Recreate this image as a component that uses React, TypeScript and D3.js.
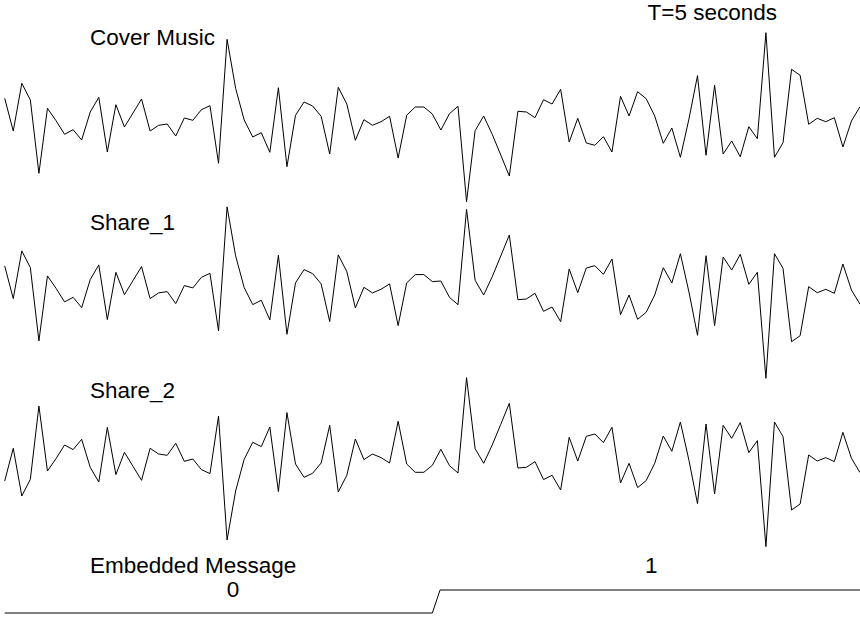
import React from "react";
import * as d3 from "d3";

const W = 860;
const H = 617;

// Cover music samples (amplitude, up = positive)
const cover = [
  23.4, -9.3, 38.4, 21.7, -51.6, 13.4, 1, -12.6, -8, -18.3,
  9.7, 24.4, -30.3, 17, -5.3, 8.7, 22.7, -9.3, -3.6, -2.3,
  -14.3, 3.7, 1.4, 12, 16, -41.6, 82.4, 33.4, 1.7, -15.3,
  -11, -30.6, 34, -45, 6.4, 19.7, 15.7, 5.4, -32.3, 34.4,
  17.7, -18.6, 2, -3.6, 0, 5.4, -36.3, 6.4, 14.7, 14.7,
  7.7, -8.3, 8, 15.4, -80, -9, 5.7, -12.6, -33.3, -54.3,
  10.4, 9.7, 4, 22, 17.7, 32.4, -20.3, 3.4, -21.3, -23.6,
  -15, -30.3, 25.4, 5.7, 30, 23, 5.7, -21.6, -6.3, -35.6,
  2.7, 46, -33.6, 36.4, -32.3, -19.3, -35, -5, -17, 89,
  -35.6, -21, 52.4, 46.4, -2.6, 3.4, 0, 4, -25.3, 0.7,
  15,
];

const share1 = [
  23.4, -9.3, 38.4, 21.7, -51.6, 13.4, 1, -12.6, -8, -18.3,
  9.7, 24.4, -30.3, 17, -5.3, 8.7, 22.7, -9.3, -3.6, -2.3,
  -14.3, 3.7, 1.4, 12, 16, -41.6, 82.4, 33.4, 1.7, -15.3,
  -11, -30.6, 34, -45, 6.4, 19.7, 15.7, 5.4, -32.3, 34.4,
  17.7, -18.6, 2, -3.6, 0, 5.4, -36.3, 6.4, 14.7, 14.7,
  7.7, 8.3, -8, -15.4, 80, 9, -5.7, 12.6, 33.3, 54.3,
  -10.4, -9.7, -4, -22, -17.7, -32.4, 20.3, -3.4, 21.3, 23.6,
  15, 30.3, -25.4, -5.7, -30, -23, -5.7, 21.6, 6.3, 35.6,
  -2.7, -46, 33.6, -36.4, 32.3, 19.3, 35, 5, 17, -89,
  35.6, 21, -52.4, -46.4, 2.6, -3.4, 0, -4, 25.3, -0.7,
  -15,
];

const share2 = [
  -23.4, 9.3, -38.4, -21.7, 51.6, -13.4, -1, 12.6, 8, 18.3,
  -9.7, -24.4, 30.3, -17, 5.3, -8.7, -22.7, 9.3, 3.6, 2.3,
  14.3, -3.7, -1.4, -12, -16, 41.6, -82.4, -33.4, -1.7, 15.3,
  11, 30.6, -34, 45, -6.4, -19.7, -15.7, -5.4, 32.3, -34.4,
  -17.7, 18.6, -2, 3.6, 0, -5.4, 36.3, -6.4, -14.7, -14.7,
  -7.7, 8.3, -8, -15.4, 80, 9, -5.7, 12.6, 33.3, 54.3,
  -10.4, -9.7, -4, -22, -17.7, -32.4, 20.3, -3.4, 21.3, 23.6,
  15, 30.3, -25.4, -5.7, -30, -23, -5.7, 21.6, 6.3, 35.6,
  -2.7, -46, 33.6, -36.4, 32.3, 19.3, 35, 5, 17, -89,
  35.6, 21, -52.4, -46.4, 2.6, -3.4, 0, -4, 25.3, -0.7,
  -15,
];

// Embedded message (step signal)
const messageTimes = [0, 50, 50.9, 100];
const messageLevels = [0, 0, 1, 1];
const messageBits = ["0", "1"];
const messageBitPos = [26.7, 75.6];

const seriesNames = ["Cover Music", "Share_1", "Share_2"];
const timeLabel = "T=5 seconds";
const messageTitle = "Embedded Message";

const FONT = "'Liberation Sans', Arial, Helvetica, sans-serif";

export default function App() {
  const x = d3.scaleLinear().domain([0, 100]).range([4.7, 860]);
  const centers = [121.7, 289.3, 457.6];
  const series = [cover, share1, share2];

  const paths = series.map((s, k) => {
    const y = d3
      .scaleLinear()
      .domain([-100, 100])
      .range([centers[k] + 100, centers[k] - 100]);
    const line = d3
      .line<number>()
      .x((_, i) => x(i))
      .y((d) => y(d));
    return line(s) || "";
  });

  const yMsg = d3.scaleLinear().domain([0, 1]).range([613, 590]);
  const msgLine = d3
    .line<number>()
    .x((d) => x(d))
    .y((_, i) => yMsg(messageLevels[i]));
  const msgPath = msgLine(messageTimes) || "";

  const labelY = [45, 230, 398];
  const fs = 22.5;

  return (
    <svg
      width={W}
      height={H}
      style={{ position: "absolute", left: 0, top: 0, background: "#fff" }}
      fontFamily={FONT}
    >
      <rect x={0} y={0} width={W} height={H} fill="#fff" />
      {paths.map((p, k) => (
        <path key={k} d={p} fill="none" stroke="#000" strokeWidth={1} />
      ))}
      {seriesNames.map((n, k) => (
        <text key={n} x={90} y={labelY[k]} fontSize={fs} fill="#000">
          {n}
        </text>
      ))}
      <text x={777} y={20} fontSize={fs} textAnchor="end" fill="#000">
        {timeLabel}
      </text>
      <text x={90} y={573} fontSize={fs} fill="#000">
        {messageTitle}
      </text>
      <text x={x(messageBitPos[0])} y={597} fontSize={fs} textAnchor="middle" fill="#000">
        {messageBits[0]}
      </text>
      <text x={x(messageBitPos[1])} y={573} fontSize={fs} textAnchor="middle" fill="#000">
        {messageBits[1]}
      </text>
      <path d={msgPath} fill="none" stroke="#000" strokeWidth={1} />
    </svg>
  );
}
